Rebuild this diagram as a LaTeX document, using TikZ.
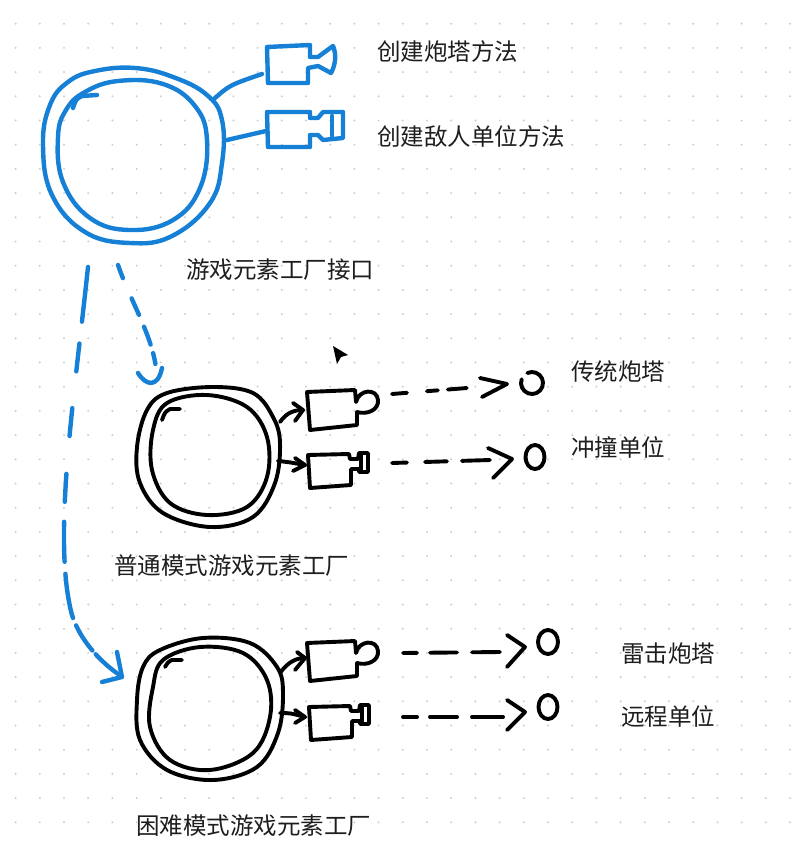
\documentclass[tikz,border=0pt]{standalone}
\usepackage{fontspec}
\newfontfamily\cjk{Noto Sans CJK SC}
\usetikzlibrary{calc}
\definecolor{penblue}{RGB}{22,128,214}
\definecolor{inktext}{RGB}{30,30,30}
\definecolor{griddot}{RGB}{205,205,205}
\begin{document}
\begin{tikzpicture}[x=1pt,y=-1pt,
  bluepen/.style={draw=penblue,line width=4.4pt,line cap=round,line join=round},
  blackpen/.style={draw=black,line width=3.9pt,line cap=round,line join=round},
  lbl/.style={font=\cjk\fontsize{23.5}{28}\selectfont,text=inktext,anchor=west,inner sep=0pt},
  camloop/.pic={
    \draw[blackpen] (0,0) -- (48,-2) -- (49,10)
      .. controls (52,-3) and (70,-4) .. (71,8)
      .. controls (72,18) and (60,23) .. (50,20) -- (50,33) -- (3,38) -- cycle;
  },
  camsq/.pic={
    \draw[blackpen] (0,0) -- (41,-1) -- (42,4) -- (50,4) -- (51,-2) -- (60,-2)
      -- (60,17) -- (51,17) -- (51,14) -- (43,14) -- (43,30) -- (2,33) -- cycle;
    \draw[blackpen] (53,0) -- (53,15);
  }]
\useasboundingbox (0,0) rectangle (795,845);
\fill[white] (0,0) rectangle (795,845);
\foreach \i in {0,...,32} \foreach \j in {0,...,34}
  \fill[griddot] (15.6+24.2*\i,23.7+24.2*\j) circle[radius=1.1pt];

% ---------- interface (blue) ----------
\draw[bluepen] plot[smooth cycle,tension=0.7] coordinates {(95,71) (135,68) (173,77) (207,95) (222,120) (222,163) (210,203) (172,236) (130,243) (85,232) (52,195) (43,145) (50,105) (68,82)};
\draw[bluepen] plot[smooth cycle,tension=0.7] coordinates {(85,92) (118,81) (163,84) (195,106) (207,140) (200,188) (173,220) (130,230) (90,218) (63,182) (58,137) (66,110)};
\draw[bluepen] (73,108) .. controls (76,99) .. (82,96) -- (97,95);
\coordinate (ifc-o1) at (215,98);
\coordinate (ifc-o2) at (227,140);
\coordinate (bcam1) at (262,74);
\coordinate (bcam2) at (266,131);
\draw[bluepen] (ifc-o1) .. controls (230,85) .. (bcam1);
\draw[bluepen] (ifc-o2) -- (bcam2);
\draw[bluepen] (267,47) -- (310,45) -- (310,57) -- (318,57) -- (333,46)
  .. controls (337,55) and (335,66) .. (331,73) -- (318,66) -- (308,68) -- (308,83) -- (268,83) -- cycle;
\draw[bluepen] (267,112) -- (310,112) -- (310,118) -- (318,118) -- (323,112) -- (343,112)
  -- (343,138) -- (323,140) -- (318,135) -- (310,135) -- (310,147) -- (268,147) -- cycle;
\draw[bluepen] (332,116) -- (332,136);
\node[lbl] (t-m1) at (377,52) {创建炮塔方法};
\node[lbl] (t-m2) at (377,137) {创建敌人单位方法};
\node[lbl] (t-ifc) at (186,270) {游戏元素工厂接口};

% ---------- blue dashed inheritance arrows ----------
\coordinate (ifc-s1) at (88,267);
\coordinate (hard-in) at (121,676);
\coordinate (ifc-s2) at (118,265);
\coordinate (norm-in) at (156,368);
\draw[bluepen,dash pattern=on 55pt off 22pt on 28pt off 37pt on 28pt off 38pt on 28pt off 20pt on 40pt off 12pt on 45pt off 8pt on 30pt off 5pt on 40pt]
  (ifc-s1) .. controls (74,400) and (52,540) .. (72,615) .. controls (80,640) and (100,662) .. (hard-in);
\draw[bluepen] (117,652) -- (122,677) -- (102,682);
\draw[bluepen,dash pattern=on 14pt off 22pt on 18pt off 13pt on 19pt off 9pt on 11pt]
  (ifc-s2) .. controls (130,300) and (152,335) .. (norm-in);
\draw[bluepen] (138,373) .. controls (146,386) and (158,388) .. (162,368);

% cursor
\fill[black] (333,346) -- (348,355) -- (341,357) -- (337,364) -- cycle;

% ---------- normal factory ----------
\draw[blackpen] plot[smooth cycle,tension=0.6] coordinates {(167,393) (213,387) (253,393) (273,417) (280,443) (275,483) (253,517) (210,527) (163,513) (140,483) (137,447) (147,410)};
\draw[blackpen] plot[smooth cycle,tension=0.6] coordinates {(167,403) (207,395) (247,407) (267,437) (267,477) (247,507) (207,515) (170,503) (152,470) (153,430)};
\draw[blackpen] (162,420) .. controls (165,412) .. (170,409) -- (180,409);
\coordinate (n-o1) at (280,422);
\coordinate (n-o2) at (278,461);
\coordinate (n-c1) at (303,410);
\coordinate (n-c2) at (305,465);
\draw[blackpen] (n-o1) .. controls (287,412) and (295,410) .. (n-c1);
\draw[blackpen] (293,403) -- (n-c1) -- (295,421);
\draw[blackpen] (n-o2) .. controls (288,462) .. (n-c2);
\draw[blackpen] (295,458) -- (n-c2) -- (293,471);
\pic at (307,392) {camloop};
\pic at (308,455) {camsq};
\coordinate (n-d1) at (392,394);
\coordinate (n-e1) at (467,388);
\draw[blackpen,dash pattern=on 15pt off 20pt on 11pt off 10pt on 19pt] (n-d1) -- (n-e1);
\draw[blackpen] (480,378) -- (507,384) -- (482,397);
\coordinate (n-d2) at (392,463);
\coordinate (n-e2) at (490,460);
\draw[blackpen,dash pattern=on 15pt off 18pt on 22pt off 15pt on 28pt] (n-d2) -- (n-e2);
\draw[blackpen] (488,448) -- (512,459) -- (493,478);
\coordinate (n-p1) at (532,383);
\draw[blackpen] ([shift={(160:11pt)}]n-p1) arc[start angle=160,end angle=475,radius=11pt];
\coordinate (n-p2) at (535,457);
\draw[blackpen] (n-p2) ellipse[x radius=9.5pt,y radius=12pt];
\node[lbl] (t-n1) at (571,372) {传统炮塔};
\node[lbl] (t-n2) at (571,447) {冲撞单位};
\node[lbl] (t-norm) at (114,566) {普通模式游戏元素工厂};

% ---------- hard factory ----------
\draw[blackpen] plot[smooth cycle,tension=0.6] coordinates {(160,650) (203,638) (250,643) (277,667) (283,693) (278,733) (257,767) (213,780) (167,770) (140,740) (137,700) (143,667)};
\draw[blackpen] plot[smooth cycle,tension=0.6] coordinates {(163,660) (200,647) (243,653) (267,680) (270,717) (253,753) (210,770) (170,760) (150,727) (153,687)};
\draw[blackpen] (165,667) .. controls (168,662) .. (172,660) -- (182,660);
\coordinate (h-o1) at (280,673);
\coordinate (h-o2) at (280,713);
\coordinate (h-c1) at (305,658);
\coordinate (h-c2) at (305,717);
\draw[blackpen] (h-o1) .. controls (288,662) and (296,658) .. (h-c1);
\draw[blackpen] (297,652) -- (h-c1) -- (295,670);
\draw[blackpen] (h-o2) .. controls (290,713) .. (h-c2);
\draw[blackpen] (295,710) -- (h-c2) -- (295,723);
\pic at (307,643) {camloop};
\pic at (309,707) {camsq};
\coordinate (h-d1) at (403,653);
\coordinate (h-e1) at (500,652);
\draw[blackpen,dash pattern=on 14pt off 13pt on 27pt off 15pt on 28pt] (h-d1) -- (h-e1);
\draw[blackpen] (507,635) -- (525,647) -- (507,667);
\coordinate (h-d2) at (403,717);
\coordinate (h-e2) at (503,717);
\draw[blackpen,dash pattern=on 14pt off 13pt on 27pt off 15pt on 31pt] (h-d2) -- (h-e2);
\draw[blackpen] (507,700) -- (525,712) -- (507,730);
\coordinate (h-p1) at (548,642);
\draw[blackpen] (h-p1) ellipse[x radius=10pt,y radius=12pt];
\coordinate (h-p2) at (548,707);
\draw[blackpen] (h-p2) ellipse[x radius=9.5pt,y radius=12pt];
\node[lbl] (t-h1) at (621,654) {雷击炮塔};
\node[lbl] (t-h2) at (621,716) {远程单位};
\node[lbl] (t-hard) at (136,826) {困难模式游戏元素工厂};
\end{tikzpicture}
\end{document}
